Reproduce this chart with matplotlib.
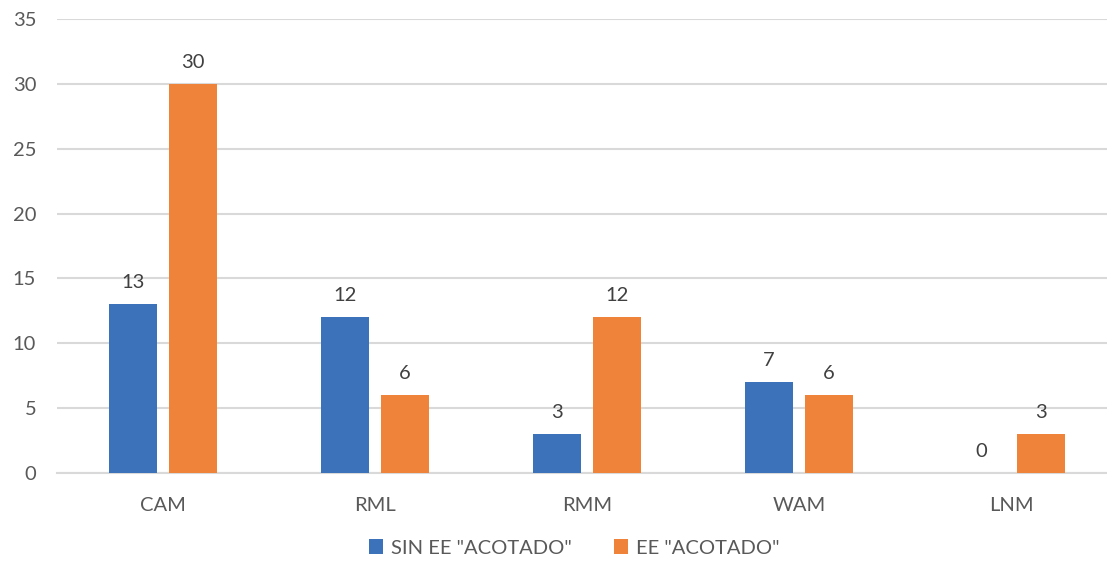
import matplotlib
matplotlib.use("Agg")
import matplotlib.pyplot as plt
import numpy as np

categories = ["CAM", "RML", "RMM", "WAM", "LNM"]
series_names = ['SIN EE "ACOTADO"', 'EE "ACOTADO"']
sin_ee = [13, 12, 3, 7, 0]
ee = [30, 6, 12, 6, 3]
yticks = [0, 5, 10, 15, 20, 25, 30, 35]

colors = ["#3C72BA", "#F0833A"]
FONT = ['Lato', 'DejaVu Sans']
FS = 14.5
W, H = 1107, 570
fig = plt.figure(figsize=(W / 100, H / 100), dpi=100)
left, right = 57, 1107
bottom, top = 473, 19
ax = fig.add_axes([left / W, (H - bottom) / H, (right - left) / W, (bottom - top) / H])

plt.rcParams['font.family'] = FONT
spacing = 212.0
x = np.arange(len(categories))
bw = 48 / spacing
off = 30 / spacing
for vals, name, c, o in [(sin_ee, series_names[0], colors[0], -off), (ee, series_names[1], colors[1], off)]:
    ax.bar(x + o, vals, bw, color=c, label=name, zorder=3)
    for xi, v in zip(x + o, vals):
        ax.annotate(str(v), (xi, v), xytext=(0, 9.5), textcoords="offset points",
                    ha="center", va="bottom", fontsize=FS, color="#404040", family=FONT)

ax.set_xlim(-0.5, (right - left) / spacing - 0.5)
ax.set_ylim(0, 35)
ax.set_yticks(yticks)
ax.set_xticks(x)
ax.set_xticklabels(categories)
ax.grid(axis="y", color="#D9D9D9", linewidth=1.5, zorder=0)
for s in ["top", "right", "left"]:
    ax.spines[s].set_visible(False)
ax.spines["bottom"].set_color("#D9D9D9")
ax.spines["bottom"].set_linewidth(1.5)
ax.tick_params(axis="both", length=0, labelsize=FS, labelcolor="#595959")
ax.tick_params(axis="y", pad=15)
ax.tick_params(axis="x", pad=17)
for lab in ax.get_xticklabels() + ax.get_yticklabels():
    lab.set_family(FONT)

leg = fig.legend(loc="center", bbox_to_anchor=(574 / W, 1 - 548 / H), ncol=2, frameon=False,
                 handlelength=0.7, handleheight=0.7, handletextpad=0.4, columnspacing=2.1,
                 prop={'family': FONT, 'size': FS})
for t in leg.get_texts():
    t.set_color("#595959")

fig.savefig("out.png", dpi=100)
